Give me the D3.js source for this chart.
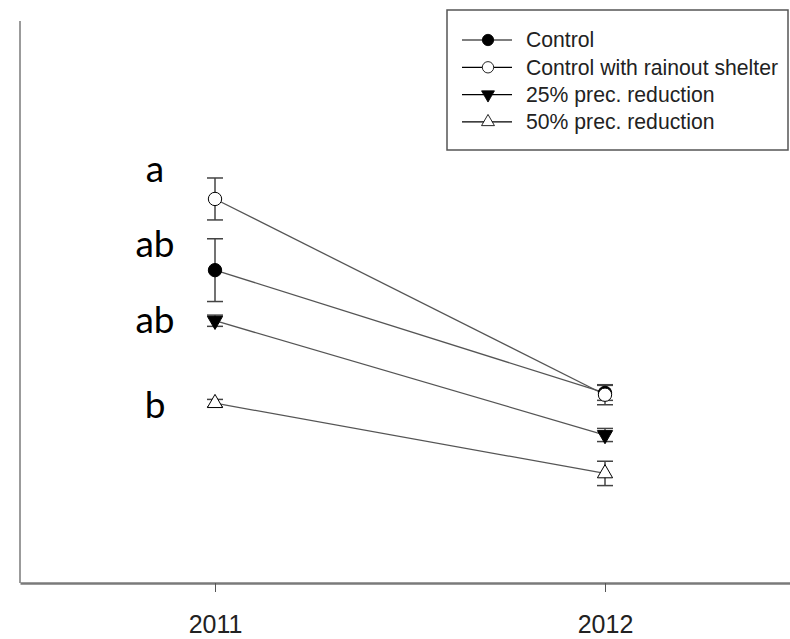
<!DOCTYPE html>
<html>
<head>
<meta charset="utf-8">
<script src="https://cdn.jsdelivr.net/npm/d3@7"></script>
<style>
  body { margin: 0; background: #fff; }
  text { font-family: "Liberation Sans", Arial, sans-serif; }
  .letter { font-family: Lato, "Open Sans", sans-serif; }
</style>
</head>
<body>
<div id="chart"></div>
<script>
// values (arbitrary y units, no y ticks shown)
var years = [2011, 2012];
var seriesNames = ["Control", "Control with rainout shelter", "25% prec. reduction", "50% prec. reduction"];
var control      = [33.4, 20.3];
var controlSe    = [3.35, 0.8];
var shelter      = [41.0, 20.1];
var shelterSe    = [2.24, 1.07];
var red25        = [28.0, 15.8];
var red25Se      = [0.6, 0.7];
var red50        = [19.2, 11.7];
var red50Se      = [0.4, 1.3];
var letters      = ["a", "ab", "ab", "b"];
var letterY      = [42.8, 34.8, 26.7, 17.6];

var width = 790, height = 639;
var margin = {top: 21, left: 20, bottom: 56};

var svg = d3.select("#chart").append("svg")
    .attr("width", width)
    .attr("height", height);

var x = d3.scaleLinear()
    .domain([2010.5, 2012.5])
    .range([margin.left, margin.left + 780]);

var y = d3.scaleLinear()
    .domain([0, 60])
    .range([height - margin.bottom, margin.top]);

var series = [
  {name: seriesNames[0], values: control, se: controlSe, symbol: "circle", fill: "#000", rot: 0},
  {name: seriesNames[1], values: shelter, se: shelterSe, symbol: "circle", fill: "#fff", rot: 0},
  {name: seriesNames[2], values: red25, se: red25Se, symbol: "triangle", fill: "#000", rot: 180},
  {name: seriesNames[3], values: red50, se: red50Se, symbol: "triangle", fill: "#fff", rot: 0}
];

function symbolPath(s) {
  return s.symbol === "circle"
    ? d3.symbol().type(d3.symbolCircle).size(140)()
    : d3.symbol().type(d3.symbolTriangle).size(100)();
}

// axes
svg.append("line")
    .attr("x1", x.range()[0]).attr("x2", x.range()[0])
    .attr("y1", y.range()[1]).attr("y2", y.range()[0])
    .attr("stroke", "#7a7a7a").attr("stroke-width", 1.5);

var xAxis = svg.append("g")
    .attr("transform", `translate(0,${y.range()[0]})`)
    .call(d3.axisBottom(x).tickValues(years).tickFormat(d3.format("d"))
      .tickSize(9).tickSizeOuter(0).tickPadding(23));
xAxis.select(".domain").attr("stroke", "#7a7a7a").attr("stroke-width", 2.5);
xAxis.selectAll(".tick line").attr("stroke", "#555");
xAxis.selectAll(".tick text")
    .attr("font-family", "Liberation Sans, Arial, sans-serif")
    .attr("font-size", 25)
    .attr("fill", "#222");

// lines
var line = d3.line().x((d, i) => x(years[i])).y(d => y(d));
svg.append("g").selectAll("path")
    .data(series)
  .enter().append("path")
    .attr("d", d => line(d.values))
    .attr("fill", "none")
    .attr("stroke", "#555")
    .attr("stroke-width", 1.3);

// error bars
series.forEach(function(s) {
  var g = svg.append("g").attr("stroke", "#444").attr("stroke-width", 1.5);
  s.values.forEach(function(v, i) {
    var cx = x(years[i]), lo = y(v - s.se[i]), hi = y(v + s.se[i]);
    g.append("line").attr("x1", cx).attr("x2", cx).attr("y1", lo).attr("y2", hi);
    g.append("line").attr("x1", cx - 8).attr("x2", cx + 8).attr("y1", lo).attr("y2", lo);
    g.append("line").attr("x1", cx - 8).attr("x2", cx + 8).attr("y1", hi).attr("y2", hi);
  });
});

// symbols
series.forEach(function(s) {
  svg.append("g").selectAll("path")
      .data(s.values)
    .enter().append("path")
      .attr("d", symbolPath(s))
      .attr("transform", (d, i) => `translate(${x(years[i])},${y(d)}) rotate(${s.rot})`)
      .attr("fill", s.fill)
      .attr("stroke", "#000")
      .attr("stroke-width", 1);
});

// significance letters
svg.append("g").selectAll("text")
    .data(letters)
  .enter().append("text")
    .attr("class", "letter")
    .attr("x", 155)
    .attr("y", (d, i) => y(letterY[i]))
    .attr("text-anchor", "middle")
    .attr("font-size", 37)
    .attr("fill", "#000")
    .text(d => d);

// legend
var legend = svg.append("g").attr("transform", "translate(447,10)");
legend.append("rect")
    .attr("width", 341).attr("height", 140)
    .attr("fill", "#fff")
    .attr("stroke", "#555")
    .attr("stroke-width", 1.5);

var item = legend.selectAll(".item")
    .data(series)
  .enter().append("g")
    .attr("transform", (d, i) => `translate(0,${30 + i * 27.3})`);
item.append("line")
    .attr("x1", 15).attr("x2", 65)
    .attr("stroke", "#000").attr("stroke-width", 1.2);
item.append("path")
    .attr("d", d => symbolPath(d))
    .attr("transform", d => `translate(41,0) rotate(${d.rot}) scale(0.85)`)
    .attr("fill", d => d.fill)
    .attr("stroke", "#000");
item.append("text")
    .attr("x", 79)
    .attr("dy", "0.35em")
    .attr("font-size", 21.2)
    .attr("fill", "#222")
    .text(d => d.name);
</script>
</body>
</html>
